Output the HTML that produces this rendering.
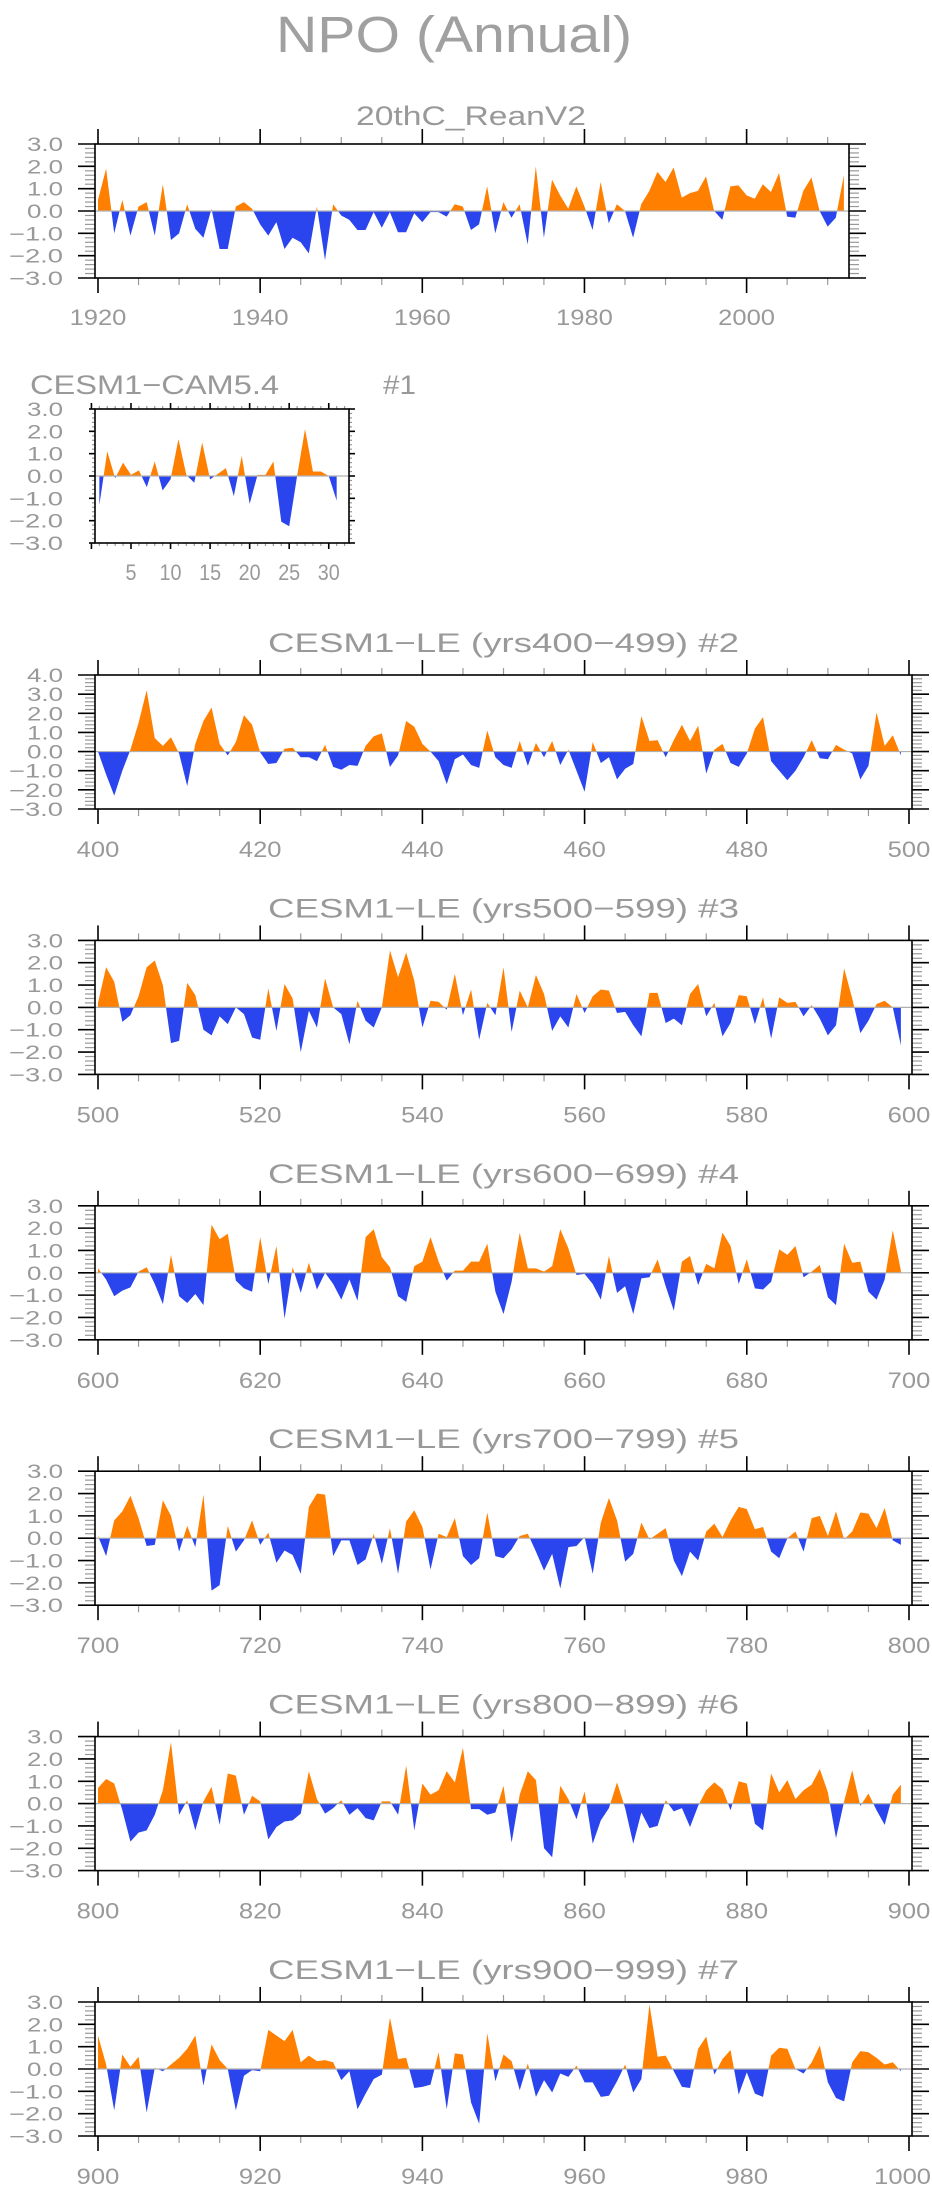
<!DOCTYPE html>
<html><head><meta charset="utf-8"><style>
html,body{margin:0;padding:0;background:#fff;}
svg{display:block;font-family:"Liberation Sans",sans-serif;}
</style></head><body>
<svg id="fig" width="932" height="2194" viewBox="0 0 932 2194" xmlns="http://www.w3.org/2000/svg">
<text x="454" y="52" font-size="51" fill="#a0a0a0" text-anchor="middle" textLength="356" lengthAdjust="spacingAndGlyphs">NPO (Annual)</text>
</svg>
<script>
const rean = [0.5,1.9,-1.0,0.5,-1.1,0.2,0.4,-1.1,1.2,-1.3,-1.0,0.3,-0.8,-1.2,0.1,-1.7,-1.7,0.2,0.4,0.1,-0.6,-1.1,-0.5,-1.7,-1.2,-1.4,-1.9,0.2,-2.2,0.3,-0.2,-0.4,-0.85,-0.85,-0.05,-0.75,-0.05,-0.95,-0.95,-0.1,-0.5,-0.05,-0.05,-0.25,0.3,0.2,-0.85,-0.6,1.1,-1.0,0.4,-0.3,0.3,-1.5,2.0,-1.2,1.4,0.7,0.1,1.1,0.2,-0.85,1.3,-0.55,0.3,0.0,-1.2,0.3,0.9,1.75,1.3,1.95,0.6,0.8,0.9,1.55,0.0,-0.4,1.1,1.15,0.7,0.55,1.2,0.85,1.7,-0.25,-0.3,0.9,1.5,0.0,-0.7,-0.3,1.6];
const cam = [-1.3,1.1,-0.1,0.6,0.05,0.25,-0.5,0.65,-0.65,-0.15,1.65,0.05,-0.3,1.5,-0.15,0.1,0.35,-0.9,0.9,-1.25,0.05,0.05,0.65,-2.05,-2.25,0.0,2.1,0.2,0.2,0.0,-1.1];
const le2 = [0.0,-1.2,-2.3,-1.0,0.1,1.5,3.2,0.7,0.3,0.75,-0.1,-1.8,0.4,1.6,2.3,0.4,-0.2,0.5,1.9,1.4,-0.05,-0.65,-0.6,0.15,0.2,-0.3,-0.3,-0.5,0.35,-0.8,-0.95,-0.7,-0.75,0.3,0.8,0.95,-0.8,-0.2,1.6,1.3,0.4,0.0,-0.5,-1.7,-0.4,-0.15,-0.7,-0.85,1.1,-0.3,-0.7,-0.85,0.55,-0.75,0.45,-0.3,0.55,-0.7,0.1,-1.0,-2.1,0.5,-0.6,-0.3,-1.45,-0.9,-0.65,1.85,0.55,0.6,-0.3,0.6,1.4,0.55,1.35,-1.15,0.1,0.4,-0.6,-0.8,-0.1,1.2,1.8,-0.5,-1.0,-1.5,-1.0,-0.3,0.6,-0.35,-0.4,0.35,0.1,-0.1,-1.45,-0.75,2.05,0.3,0.85,-0.2];
const le3 = [0.2,1.8,1.15,-0.65,-0.35,0.5,1.8,2.1,1.0,-1.6,-1.5,1.1,0.55,-1.0,-1.25,-0.4,-0.75,0.0,-0.3,-1.35,-1.45,0.85,-1.05,1.05,0.4,-2.0,-0.15,-0.9,1.3,0.0,-0.3,-1.65,0.3,-0.6,-0.9,0.0,2.55,1.35,2.45,1.2,-0.9,0.3,0.25,-0.1,1.5,-0.35,0.8,-1.45,0.2,-0.35,1.8,-1.1,0.75,0.0,1.45,0.6,-1.05,-0.4,-0.9,0.6,-0.25,0.5,0.8,0.75,-0.25,-0.2,-0.8,-1.3,0.65,0.65,-0.7,-0.5,-0.8,0.6,1.05,-0.4,0.2,-1.3,-0.7,0.55,0.5,-0.75,0.45,-1.4,0.45,0.2,0.25,-0.4,0.1,-0.5,-1.25,-0.8,1.75,0.4,-1.15,-0.6,0.15,0.3,0.0,-1.7];
const le4 = [0.2,-0.3,-1.05,-0.8,-0.65,0.05,0.25,-0.5,-1.4,0.8,-1.05,-1.35,-0.95,-1.45,2.15,1.5,1.75,-0.35,-0.7,-0.85,1.6,-0.5,1.2,-2.05,0.25,-0.9,0.45,-0.75,0.0,-0.5,-1.2,-0.3,-1.25,1.6,1.95,0.7,0.25,-1.05,-1.3,0.3,0.5,1.6,0.5,-0.35,0.1,0.1,0.5,0.5,1.3,-0.85,-1.85,-0.4,1.8,0.2,0.2,0.05,0.3,1.95,1.1,-0.1,-0.05,-0.5,-1.2,0.75,-0.9,-0.6,-1.85,-0.25,-0.2,0.6,-0.6,-1.7,0.5,0.75,-0.55,0.4,0.2,1.8,1.2,-0.5,0.6,-0.7,-0.75,-0.4,1.05,0.8,1.2,-0.2,0.05,0.35,-1.1,-1.45,1.3,0.45,0.5,-0.85,-1.2,-0.3,1.9,0.1];
const le5 = [0.1,-0.8,0.8,1.2,1.9,0.9,-0.35,-0.3,1.7,1.0,-0.6,0.55,-0.4,1.95,-2.35,-2.1,0.55,-0.6,-0.1,0.8,-0.3,0.25,-1.1,-0.55,-0.75,-1.6,1.4,2.0,1.95,-0.8,-0.1,-0.1,-1.2,-0.95,0.2,-1.15,0.45,-1.6,0.75,1.25,0.5,-1.4,0.2,0.05,0.9,-0.8,-1.2,-0.9,1.15,-0.8,-0.9,-0.5,0.1,0.2,-0.6,-1.45,-0.7,-2.25,-0.4,-0.35,0.05,-1.6,0.7,1.8,0.8,-1.05,-0.7,0.7,-0.05,0.2,0.45,-1.0,-1.7,-0.6,-1.0,0.3,0.65,0.05,0.8,1.4,1.3,0.4,0.5,-0.6,-0.9,0.0,0.3,-0.6,0.9,1.0,0.1,1.2,-0.05,0.3,1.15,1.1,0.45,1.35,-0.1,-0.3];
const le6 = [0.7,1.1,0.9,-0.3,-1.7,-1.3,-1.2,-0.5,0.6,2.75,-0.5,0.15,-1.2,0.1,0.75,-0.95,1.35,1.25,-0.5,0.35,0.1,-1.6,-1.05,-0.8,-0.75,-0.45,1.45,0.2,-0.45,-0.2,0.15,-0.5,-0.2,-0.65,-0.75,0.1,0.1,-0.5,1.7,-1.2,0.9,0.4,0.6,1.45,0.95,2.5,-0.25,-0.25,-0.5,-0.4,0.8,-1.75,0.4,1.45,1.05,-2.0,-2.4,0.8,0.2,-0.7,0.55,-1.8,-0.75,-0.2,0.95,-0.2,-1.8,-0.4,-1.1,-1.0,0.15,-0.35,-0.2,-1.05,-0.1,0.6,0.95,0.65,-0.3,1.0,0.9,-0.9,-1.2,1.35,0.5,1.05,0.2,0.6,0.85,1.55,0.5,-1.55,0.1,1.5,-0.1,0.45,-0.3,-0.95,0.4,0.85];
const le7 = [1.5,0.2,-1.85,0.65,0.1,0.55,-1.95,0.05,-0.1,0.2,0.5,0.9,1.5,-0.75,1.1,0.4,0.0,-1.85,-0.3,-0.05,-0.1,1.75,1.5,1.25,1.75,0.3,0.6,0.35,0.4,0.3,-0.5,-0.1,-1.8,-1.1,-0.45,-0.25,2.3,0.45,0.5,-0.85,-0.8,-0.7,0.75,-1.8,0.7,0.65,-1.5,-2.45,1.6,-0.55,0.65,0.35,-0.95,0.25,-1.25,-0.5,-1.05,-0.2,-0.35,0.15,-0.6,-0.6,-1.25,-1.2,-0.55,0.2,-1.05,-0.45,2.9,0.55,0.6,-0.1,-0.8,-0.85,0.9,1.45,-0.25,0.45,0.85,-1.15,-0.15,-1.1,-1.25,0.6,0.95,0.9,0.0,-0.2,0.3,1.05,-0.6,-1.3,-1.45,0.3,0.8,0.75,0.5,0.2,0.3,-0.1];
const yTicks6 = ["3.0","2.0","1.0","0.0","\u22121.0","\u22122.0","\u22123.0"];
const yTicks7 = ["4.0","3.0","2.0","1.0","0.0","\u22121.0","\u22122.0","\u22123.0"];
const reanXLabels = ["1920","1940","1960","1980","2000"];
const camXLabels = ["5","10","15","20","25","30"];

const NS = "http://www.w3.org/2000/svg";
const svg = document.getElementById('fig');
let clipId = 0;
function mk(tag, attrs, parent) {
  const e = document.createElementNS(NS, tag);
  for (const k in attrs) e.setAttribute(k, attrs[k]);
  (parent || svg).appendChild(e);
  return e;
}

function panel(cfg) {
  const g = mk('g', {});
  
  
  const L = 95, R = cfg.right, T = cfg.top, B = cfg.top + 134;
  const sx = v => L + (v - cfg.xmin) / (cfg.xmax - cfg.xmin) * (R - L);
  const sy = v => B - (v - cfg.ymin) / (cfg.ymax - cfg.ymin) * (B - T);
  const y0 = sy(0);
  for (const t of cfg.titles) {
    const te = mk('text', {x: t.x, y: T - cfg.titleGap, 'font-size': 27, fill: '#999', textLength: t.w, lengthAdjust: 'spacingAndGlyphs'}, g);
    te.textContent = t.s;
    
    
  }
  const d = cfg.data;
  let p = 'M' + sx(cfg.start).toFixed(2) + ',' + y0.toFixed(2);
  d.forEach((v, i) => { p += ' L' + sx(cfg.start + i).toFixed(2) + ',' + sy(v).toFixed(2); });
  p += ' L' + sx(cfg.start + d.length - 1).toFixed(2) + ',' + y0.toFixed(2) + ' Z';
  const idA = 'ca' + (clipId++), idB = 'cb' + (clipId++);
  const defs = mk('defs', {}, g);
  const c1 = mk('clipPath', {id: idA}, defs);
  mk('rect', {x: L, y: T, width: R - L, height: y0 - T}, c1);
  const c2 = mk('clipPath', {id: idB}, defs);
  mk('rect', {x: L, y: y0, width: R - L, height: B - y0}, c2);
  const pos = mk('path', {d: p, fill: '#ff8000', 'clip-path': 'url(#' + idA + ')'}, g);
  
  
  const neg = mk('path', {d: p, fill: '#2a45ee', 'clip-path': 'url(#' + idB + ')'}, g);
  
  
  const zl = mk('line', {x1: L, x2: R, y1: y0, y2: y0, stroke: '#b0b0b0', 'stroke-width': 1.2}, g);
  
  
  for (let v = cfg.ymin; v <= cfg.ymax + 1e-6; v += 0.2) {
    const y = sy(v);
    const major = Math.abs(v - Math.round(v)) < 1e-6;
    const len = major ? cfg.yMajLen : cfg.yMinLen;
    mk('line', {x1: L - len, x2: L, y1: y, y2: y, stroke: major ? '#000' : '#999', 'stroke-width': major ? 1.6 : 1.2}, g);
    mk('line', {x1: R, x2: R + len, y1: y, y2: y, stroke: major ? '#000' : '#999', 'stroke-width': major ? 1.6 : 1.2}, g);
  }
  cfg.yLabels.forEach((s, i) => {
    const v = cfg.ymax - i;
    const te = mk('text', {x: 63, y: sy(v) + 7, 'font-size': 19, fill: '#999', 'text-anchor': 'end', textLength: s.length > 3 ? 54 : 36, lengthAdjust: 'spacingAndGlyphs'}, g);
    te.textContent = s;
    
    
  });
  for (let v = cfg.xTickStart; v <= cfg.xmax; v += cfg.xMinor) {
    const x = sx(v);
    const major = Math.abs(((v - cfg.xTickStart) / cfg.xMajor) - Math.round((v - cfg.xTickStart) / cfg.xMajor)) < 1e-6;
    const len = major ? cfg.xMajLen : cfg.xMinLen;
    mk('line', {x1: x, x2: x, y1: B, y2: B + len, stroke: major ? '#000' : '#999', 'stroke-width': major ? 1.6 : 1.2}, g);
    mk('line', {x1: x, x2: x, y1: T - len, y2: T, stroke: major ? '#000' : '#999', 'stroke-width': major ? 1.6 : 1.2}, g);
  }
  cfg.xLabels.forEach(s => {
    const v = parseFloat(s);
    const w = s.length * cfg.digitW;
    let cx = sx(v);
    let anchor = 'middle';
    if (cx + w / 2 > 931) { cx = 931; anchor = 'end'; }
    const te = mk('text', {x: cx, y: B + cfg.xLabGap, 'font-size': 22, fill: '#999', 'text-anchor': anchor, textLength: w, lengthAdjust: 'spacingAndGlyphs'}, g);
    te.textContent = s;
    
    
  });
  const fr = mk('rect', {x: L, y: T, width: R - L, height: B - T, fill: 'none', stroke: '#000', 'stroke-width': 1.6}, g);
  
  
}

panel({name: 'panel-20thc-reanv2', top: 144, right: 849, xmin: 1919.63, xmax: 2012.63, ymin: -3, ymax: 3,
  data: rean, start: 1920, yLabels: yTicks6, xTickStart: 1920, xMajor: 20, xMinor: 5, xMajLen: 15, xMinLen: 7,
  yMajLen: 17, yMinLen: 10, xLabels: reanXLabels, xLabGap: 47, digitW: 14.2, titleGap: 19,
  titles: [{x: 356, w: 230, s: '20thC_ReanV2', n: 'panel-title'}]});

panel({name: 'panel-cesm1-cam54', top: 409, right: 349, xmin: 0.45, xmax: 32.56, ymin: -3, ymax: 3,
  data: cam, start: 1, yLabels: yTicks6, xTickStart: 0, xMajor: 5, xMinor: 1, xMajLen: 6, xMinLen: 3,
  yMajLen: 6, yMinLen: 3, xLabels: camXLabels, xLabGap: 37, digitW: 11, titleGap: 15,
  titles: [{x: 30, w: 249, s: 'CESM1\u2212CAM5.4', n: 'panel-title'}, {x: 383, w: 33, s: '#1', n: 'run-number'}]});

const le = [le2, le3, le4, le5, le6, le7];
const leStarts = [400, 500, 600, 700, 800, 900];
le.forEach((arr, k) => {
  const s = leStarts[k];
  const top = 675 + k * 265.4;
  const labs = [];
  for (let v = s; v <= s + 100; v += 20) labs.push(String(v));
  panel({name: 'panel-cesm1-le-' + s, top: top, right: 912, xmin: s - 0.37, xmax: s + 100.37,
    ymin: -3, ymax: k === 0 ? 4 : 3, data: arr, start: s, yLabels: k === 0 ? yTicks7 : yTicks6,
    xTickStart: s, xMajor: 20, xMinor: 5, xMajLen: 15, xMinLen: 7, yMajLen: 17, yMinLen: 10,
    xLabels: labs, xLabGap: 48, digitW: 14.2, titleGap: 23,
    titles: [{x: 268, w: 471, s: 'CESM1\u2212LE (yrs' + s + '\u2212' + (s + 99) + ') #' + (k + 2), n: 'panel-title'}]});
});
</script>
</body></html>
